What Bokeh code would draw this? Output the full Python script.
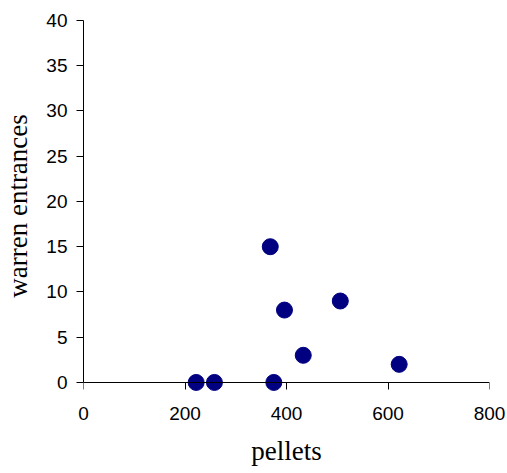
from bokeh.plotting import figure
from bokeh.models import Range1d, FixedTicker, ColumnDataSource, LinearAxis
from bokeh.embed import file_html
from bokeh.resources import INLINE

pellets = [222, 258, 368, 375, 396, 433, 506, 622]
warren_entrances = [0, 0, 15, 0, 8, 3, 9, 2]
x_ticks = [0, 200, 400, 600, 800]
y_ticks = [0, 5, 10, 15, 20, 25, 30, 35, 40]

source = ColumnDataSource(data=dict(x=pellets, y=warren_entrances))

p = figure(width=507, height=473, output_backend="svg", toolbar_location=None,
           x_range=Range1d(0, 800), y_range=Range1d(-1, 40),
           min_border_left=80, min_border_right=18, min_border_top=20, min_border_bottom=82)
p.outline_line_color = None
p.grid.visible = False
p.background_fill_color = "white"
p.border_fill_color = "white"

p.scatter("x", "y", source=source, size=16, fill_color="#000080", line_color="#000080")

# x-axis line and ticks drawn at y = 0 (labels suppressed)
xline = p.below[0]
xline.ticker = FixedTicker(ticks=x_ticks)
xline.fixed_location = 0
xline.axis_line_color = "black"
xline.major_tick_line_color = "black"
xline.major_tick_in = 0
xline.major_tick_out = 7
xline.minor_tick_line_color = None
xline.major_label_text_font_size = "0px"
xline.major_label_text_color = None
xline.major_label_standoff = 0

# x-axis tick labels and title
xa = LinearAxis(ticker=FixedTicker(ticks=x_ticks), axis_line_color=None,
                major_tick_line_color=None, minor_tick_line_color=None,
                major_tick_in=0, major_tick_out=0)
p.add_layout(xa, "below")

ya = p.left[0]
ya.ticker = FixedTicker(ticks=y_ticks)
ya.bounds = (0, 40)
ya.minor_tick_line_color = None
ya.major_tick_in = 0
ya.major_tick_out = 7
ya.axis_line_color = "black"
ya.major_tick_line_color = "black"

for ax in (xa, ya):
    ax.major_label_text_font = "Liberation Sans"
    ax.major_label_text_font_size = "19px"
    ax.major_label_text_color = "black"
    ax.axis_label_text_font = "Liberation Serif"
    ax.axis_label_text_font_size = "27px"
    ax.axis_label_text_font_style = "normal"
    ax.axis_label_text_color = "black"

xa.axis_label = "pellets"
ya.axis_label = "warren entrances"
xa.major_label_standoff = 15
xa.axis_label_standoff = 13
ya.major_label_standoff = 9
ya.axis_label_standoff = 10

open("out.html", "w").write(file_html(p, INLINE))
